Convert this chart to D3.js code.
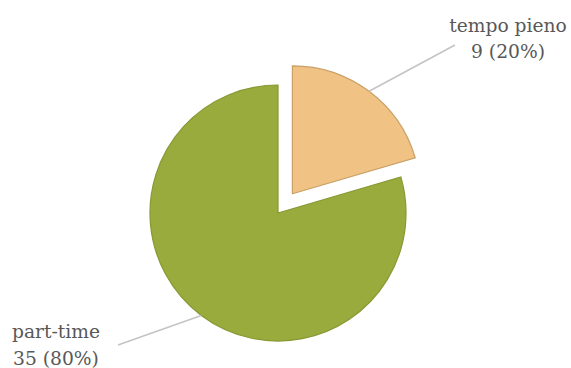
<!DOCTYPE html>
<html>
<head>
<meta charset="utf-8">
<script src="https://cdn.jsdelivr.net/npm/d3@7/dist/d3.min.js"></script>
<style>
  html, body { margin: 0; padding: 0; background: #fff; }
  svg { display: block; }
  .lbl { font-family: "DejaVu Serif", serif; font-size: 18.7px; }
</style>
</head>
<body>
<svg id="chart" width="571" height="368"></svg>
<script>
// Data
const categories = ["tempo pieno", "part-time"];
const values = [9, 35];
const fills = ["#f0c283", "#9aab3d"];
const strokes = ["#c9a068", "#879833"];

// Layout
const W = 571, H = 368;
const cx = 278, cy = 213, R = 128;
const explode = [24, 0];           // radial offset per slice
const labelLayout = [
  { lineEnd: [455, 45], x: 508, y: 32, gap: 26 },
  { lineEnd: [118, 345], x: 56, y: 338, gap: 27 }
];

const svg = d3.select("#chart");
const total = d3.sum(values);

const pie = d3.pie().sort(null).value(d => d)(values);
const arc = d3.arc().innerRadius(0).outerRadius(R);

const g = svg.append("g").attr("transform", `translate(${cx},${cy})`);

pie.forEach((p, i) => {
  const mid = (p.startAngle + p.endAngle) / 2;
  const dx = Math.sin(mid) * explode[i];
  const dy = -Math.cos(mid) * explode[i];
  const sg = g.append("g").attr("transform", `translate(${dx},${dy})`);
  sg.append("path")
    .attr("d", arc(p))
    .attr("fill", fills[i])
    .attr("stroke", strokes[i])
    .attr("stroke-width", 1.2)
    .attr("stroke-linejoin", "miter");

  // leader line from the slice's outer edge to its label
  const sx = cx + dx + Math.sin(mid) * R;
  const sy = cy + dy - Math.cos(mid) * R;
  const L = labelLayout[i];
  svg.append("line")
    .attr("x1", sx).attr("y1", sy)
    .attr("x2", L.lineEnd[0]).attr("y2", L.lineEnd[1])
    .attr("stroke", "#c4c4c4")
    .attr("stroke-width", 1.6);

  const pct = Math.round(values[i] / total * 100);
  const t = svg.append("text")
    .attr("class", "lbl")
    .attr("x", L.x).attr("y", L.y)
    .attr("text-anchor", "middle")
    .attr("fill", "#585858");
  t.append("tspan").attr("x", L.x).attr("y", L.y).text(categories[i]);
  t.append("tspan").attr("x", L.x).attr("y", L.y + L.gap).text(`${values[i]} (${pct}%)`);
});
</script>
</body>
</html>
